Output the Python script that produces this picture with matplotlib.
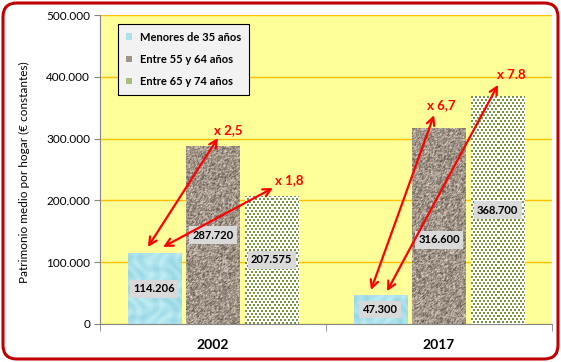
import numpy as np
import matplotlib
matplotlib.use('Agg')
import matplotlib.pyplot as plt
from matplotlib.patches import FancyBboxPatch, Patch
from matplotlib.transforms import IdentityTransform
from matplotlib.ticker import FuncFormatter

# ─── data ────────────────────────────────────────────────────────────────────
years = ['2002', '2017']
groups = ['Menores de 35 años', 'Entre 55 y 64 años', 'Entre 65 y 74 años']
menores = [114206, 47300]
entre_55_64 = [287720, 316600]
entre_65_74 = [207575, 368700]
series = [menores, entre_55_64, entre_65_74]
ratio_labels = ['x 2,5', 'x 1,8', 'x 6,7', 'x 7.8']

plt.rcParams['font.family'] = ['Lato', 'DejaVu Sans']

W, H = 561, 362
YMAX = 500000
AX_L, AX_B, AX_W, AX_H = 100, 38, 452, 309   # plot area in pixels

fig = plt.figure(figsize=(W / 100, H / 100), dpi=100, facecolor='white')
ax = fig.add_axes([AX_L / W, AX_B / H, AX_W / W, AX_H / H])
ax.set_facecolor('#FFFF99')


def fmt(v):
    return f'{int(round(v)):,}'.replace(',', '.')


# ─── textures (purely decorative) ────────────────────────────────────────────
def hash_noise(w, h, seed):
    jj, ii = np.meshgrid(np.arange(w), np.arange(h))
    v = np.sin(ii * 12.9898 + jj * 78.233 + seed) * 43758.5453
    return v - np.floor(v)


def texture(kind, w, h):
    jj, ii = np.meshgrid(np.arange(w), np.arange(h))
    if kind == 0:   # water drops, light cyan
        base = np.array([172, 226, 236]) / 255
        s = np.sin(jj / 3.5 + np.sin(ii / 5.0) * 2) * np.cos(ii / 4.5 + np.cos(jj / 6.0) * 2)
        n = hash_noise(w, h, 1.0)
        val = 0.07 * s + 0.03 * (n - 0.5)
        img = base[None, None, :] + val[..., None] * np.array([1.0, 0.6, 0.4])
    elif kind == 1:  # granite
        n = hash_noise(w, h, 3.0)
        n2 = (n + np.roll(n, 1, 0) + np.roll(n, 1, 1)) / 3
        base = np.array([160, 148, 136]) / 255
        img = base[None, None, :] + (n2 - 0.5)[..., None] * 0.55
    else:           # small olive squares on white, staggered rows
        row = ii // 3
        shift = (row % 2) * 2
        mask = ((ii % 3) < 2) & (((jj + shift) % 4) < 2)
        img = np.ones((h, w, 3))
        img[mask] = np.array([119, 147, 60]) / 255
    return np.clip(img, 0, 1)


bar_colors = ['#ACE2EC', '#A09488', '#A8BC7C']
offsets = [-0.26, 0.0, 0.26]
width = 0.235
x = np.arange(len(years))
px_per_x = AX_W / 2.0
px_per_y = AX_H / YMAX

ax.set_axisbelow(True)
ax.yaxis.grid(True, color='#FFC000', linewidth=1.0)

for k, (vals, off) in enumerate(zip(series, offsets)):
    bars = ax.bar(x + off, vals, width, color=bar_colors[k], zorder=2, linewidth=0)
    for rect, v in zip(bars, vals):
        w_px = int(round(width * px_per_x))
        h_px = max(1, int(round(v * px_per_y)))
        x0 = rect.get_x()
        im = ax.imshow(texture(k, w_px, h_px), extent=[x0, x0 + width, 0, v],
                       aspect='auto', interpolation='nearest', zorder=2.5)
        im.set_clip_path(rect)

# data labels (mid-bar, grey box)
label_frac = [[0.5, 0.5], [0.5, 0.43], [0.5, 0.5]]
for k, (vals, off) in enumerate(zip(series, offsets)):
    for i, v in enumerate(vals):
        ax.text(x[i] + off, v * label_frac[k][i], fmt(v), ha='center', va='center',
                fontsize=8, fontweight='bold', color='black', zorder=5,
                bbox=dict(boxstyle='square,pad=0.3', facecolor='#D9D9D9', edgecolor='none'))

# growth arrows: (start, end, text position)
arrows = [
    ((-0.288, 124600), (0.022, 301000), (0.066, 314000)),
    ((-0.221, 124600), (0.265, 220000), (0.336, 233000)),
    ((0.699, 55000), (0.978, 338000), (1.009, 354000)),
    ((0.770, 53000), (1.261, 387000), (1.319, 403000)),
]
for (start, end, tpos), lab in zip(arrows, ratio_labels):
    ax.annotate('', xy=end, xytext=start, zorder=6,
                arrowprops=dict(arrowstyle='<->,head_length=0.55,head_width=0.28',
                                color='#FF0000', lw=1.6, shrinkA=0, shrinkB=0))
    ax.text(tpos[0], tpos[1], lab, color='#FF0000', fontsize=9.5,
            fontweight='bold', ha='center', va='center', zorder=6)

# axes
ax.set_xlim(-0.5, 1.5)
ax.set_ylim(0, YMAX)
ax.set_yticks(np.arange(0, YMAX + 1, 100000))
ax.yaxis.set_major_formatter(FuncFormatter(lambda v, p: fmt(v)))
ax.tick_params(axis='y', length=4, color='#868686', labelsize=8.5, pad=3)
ax.set_xticks(x)
ax.set_xticklabels(years, fontsize=10, fontweight='bold')
ax.tick_params(axis='x', length=0, pad=11)
ax.set_xticks([-0.5, 0.5, 1.5], minor=True)
ax.tick_params(axis='x', which='minor', length=5, color='#868686')
for side in ['top', 'right']:
    ax.spines[side].set_visible(False)
for side in ['left', 'bottom']:
    ax.spines[side].set_color('#868686')

fig.text(24 / W, (H - 172) / H, 'Patrimonio medio por hogar (€ constantes)',
         rotation=90, ha='center', va='center', fontsize=8.5)

# legend
handles = [Patch(facecolor=c, edgecolor='none') for c in bar_colors]
leg = ax.legend(handles, groups, loc='upper left', bbox_to_anchor=(0.04, 0.971),
                borderaxespad=0, fancybox=False, framealpha=1, edgecolor='black',
                facecolor='#F2F2F2', prop={'weight': 'bold', 'size': 8},
                handlelength=0.55, handleheight=0.55, handletextpad=0.7,
                labelspacing=1.0, borderpad=0.7)
leg.get_frame().set_linewidth(0.8)
leg.set_zorder(7)

# red rounded frame
frame = FancyBboxPatch((3, 3), W - 6, H - 6, boxstyle='round,pad=0,rounding_size=14',
                       transform=IdentityTransform(), facecolor='none',
                       edgecolor='#C00000', linewidth=2.2)
fig.patches.append(frame)

fig.savefig('out.png', dpi=100, facecolor='white')
